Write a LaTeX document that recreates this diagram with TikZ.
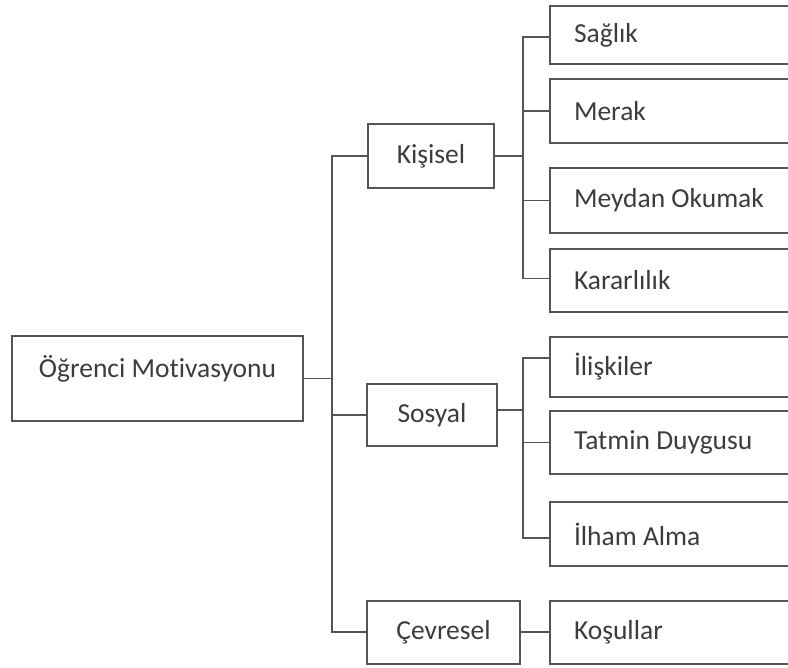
\documentclass[tikz,border=0pt]{standalone}
\usepackage{fontspec}
\setmainfont{Carlito}[Ligatures={NoCommon}]
\definecolor{txt}{HTML}{3C3C3C}
\definecolor{ln}{HTML}{555555}
\begin{document}
\begin{tikzpicture}[x=1pt,y=-1pt,
  box/.style={draw=ln,line width=2pt,rectangle,inner sep=0pt,text=txt,
     font=\fontsize{27.5}{30}\selectfont},
  leaf/.style={box,anchor=west,text width=212pt,inner xsep=24pt,align=flush left,minimum height=63pt},
  conn/.style={draw=ln,line width=1.8pt}]
\useasboundingbox (0,0) rectangle (788,668);
% root
\node[box,minimum width=291pt,minimum height=85pt] (main) at (157.5,378.5) {\raisebox{25pt}{Öğrenci Motivasyonu}};
% level 1
\node[box,minimum width=126pt,minimum height=64pt] (kis) at (431,156) {Kişisel};
\node[box,minimum width=130pt,minimum height=62pt] (sos) at (432,415) {Sosyal};
\node[box,minimum width=153pt,minimum height=63pt] (cev) at (443.5,632) {Çevresel};
% leaves
\node[leaf,minimum height=58pt] (sag) at (549,35) {Sağlık};
\node[leaf,minimum height=64pt] (mer) at (549,111) {Merak};
\node[leaf,minimum height=65pt] (mey) at (549,200.5) {Meydan Okumak};
\node[leaf] (kar) at (549,280.5) {Kararlılık};
\node[leaf,minimum height=60pt] (ili) at (549,367) {İlişkiler};
\node[leaf] (tat) at (549,442.5) {Tatmin Duygusu};
\node[leaf,minimum height=64pt] (ilh) at (549,534) {İlham Alma};
\node[leaf] (kos) at (549,632) {Koşullar};
% trunks
\coordinate (t1) at (332,378.5);
\coordinate (tk) at (523,156);
\coordinate (ts) at (523,410);
\path[conn] (main.east) -- (t1);
\path[conn] (kis.west) -| (t1) |- (cev.west);
\path[conn] (t1 |- sos.west) -- (sos.west);
\path[conn] (kis.east) -- (tk);
\path[conn] ([yshift=-2pt]sag.west) -| (tk) |- ([yshift=2pt]kar.west);
\path[conn] (tk |- mer.west) -- (mer.west);
\path[conn] (tk |- mey.west) -- (mey.west);
\path[conn] (sos.east |- ts) -- (ts);
\path[conn] ([yshift=9pt]ili.west) -| (ts) |- ([yshift=-4pt]ilh.west);
\path[conn] (ts |- tat.west) -- (tat.west);
\path[conn] (cev.east) -- (kos.west);
\end{tikzpicture}
\end{document}
